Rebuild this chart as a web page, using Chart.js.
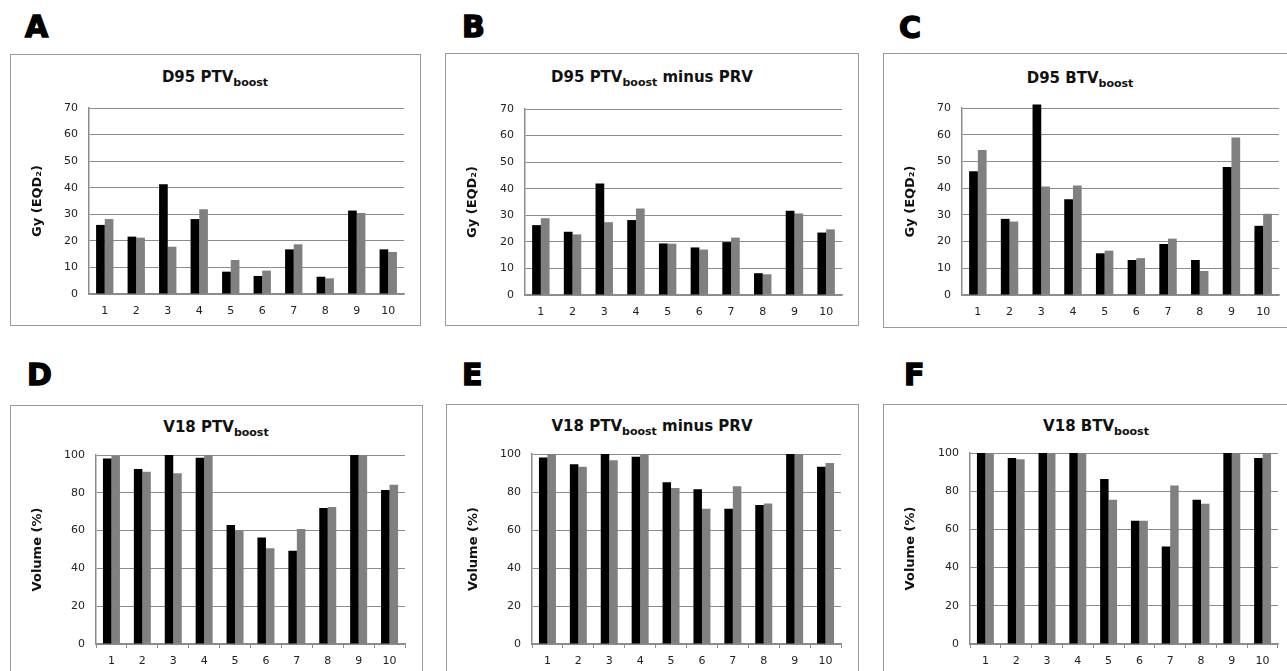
<!DOCTYPE html>
<html>
<head>
<meta charset="utf-8">
<script src="https://cdn.jsdelivr.net/npm/chart.js@4/dist/chart.umd.min.js"></script>
<style>
  body { margin: 0; background: #fff; width: 1287px; height: 671px; overflow: hidden; position: relative;
         font-family: "DejaVu Sans", Verdana, sans-serif; }
  .letter { position: absolute; font-weight: bold; font-size: 30px; line-height: 30px; -webkit-text-stroke: 1.4px #000; }
  .frame { position: absolute; border: 1px solid #9a9a9a; box-sizing: border-box; }
  .title { position: absolute; width: 400px; text-align: center; font-weight: bold; font-size: 15px; line-height: 15px; color: #111; white-space: nowrap; }
  .title sub { font-size: 11px; vertical-align: -4px; line-height: 0; }
  canvas { position: absolute; }
</style>
</head>
<body>
<script>
// --- data (black series / grey series per patient) ---
const patients = ['1', '2', '3', '4', '5', '6', '7', '8', '9', '10'];
const gyTicks = [0, 10, 20, 30, 40, 50, 60, 70];
const volTicks = [0, 20, 40, 60, 80, 100];

// D95 (Gy EQD2)
const d95PtvBlack = [26.0, 21.6, 41.3, 28.2, 8.4, 6.8, 16.8, 6.5, 31.4, 16.8];
const d95PtvGrey  = [28.2, 21.2, 17.8, 31.9, 12.8, 8.8, 18.7, 5.9, 30.5, 15.8];
const d95PrvBlack = [26.3, 23.8, 42.0, 28.2, 19.4, 17.9, 19.9, 8.2, 31.7, 23.5];
const d95PrvGrey  = [28.9, 22.8, 27.4, 32.6, 19.3, 17.1, 21.6, 7.8, 30.7, 24.7];
const d95BtvBlack = [46.3, 28.5, 71.3, 35.8, 15.6, 13.1, 19.1, 13.1, 47.9, 25.9];
const d95BtvGrey  = [54.3, 27.5, 40.6, 41.0, 16.6, 13.8, 21.1, 9.0, 59.0, 30.4];

// V18 (volume %)
const v18PtvBlack = [98.2, 92.6, 100, 98.6, 63.0, 56.3, 49.3, 72.0, 100, 81.5];
const v18PtvGrey  = [99.5, 91.2, 90.3, 100, 60.2, 50.7, 60.9, 72.5, 100, 84.2];
const v18PrvBlack = [98.1, 94.6, 100, 98.6, 85.1, 81.5, 71.2, 73.1, 100, 93.3];
const v18PrvGrey  = [100, 93.3, 96.7, 100, 82.1, 71.2, 83.0, 74.0, 100, 95.3];
const v18BtvBlack = [100, 97.4, 100, 100, 86.4, 64.5, 51.0, 75.5, 100, 97.4];
const v18BtvGrey  = [100, 96.7, 100, 100, 75.5, 64.5, 83.0, 73.4, 100, 100];

// --- panel layout (page pixels) ---
const panels = [
  { letter: 'A', lx: 25, ly: 12, title: 'D95 PTV<sub>boost</sub>', tx: 215, ty: 70,
    frame: [10, 54, 411, 272], plot: [89, 108, 404, 294], yTitle: 'Gy (EQD₂)', ticks: gyTicks,
    black: d95PtvBlack, grey: d95PtvGrey, xTicks: false },
  { letter: 'B', lx: 462, ly: 12, title: 'D95 PTV<sub>boost</sub> minus PRV', tx: 652, ty: 70,
    frame: [445, 53, 414, 273], plot: [525, 109, 842, 295], yTitle: 'Gy (EQD₂)', ticks: gyTicks,
    black: d95PrvBlack, grey: d95PrvGrey, xTicks: false },
  { letter: 'C', lx: 899, ly: 13, title: 'D95 BTV<sub>boost</sub>', tx: 1080, ty: 71,
    frame: [883, 53, 420, 275], plot: [962, 108, 1279, 295], yTitle: 'Gy (EQD₂)', ticks: gyTicks,
    black: d95BtvBlack, grey: d95BtvGrey, xTicks: false },
  { letter: 'D', lx: 27, ly: 360, title: 'V18 PTV<sub>boost</sub>', tx: 216, ty: 420,
    frame: [10, 405, 413, 290], plot: [96, 455, 405, 644], yTitle: 'Volume (%)', ticks: volTicks,
    black: v18PtvBlack, grey: v18PtvGrey, xTicks: true },
  { letter: 'E', lx: 462, ly: 360, title: 'V18 PTV<sub>boost</sub> minus PRV', tx: 652, ty: 419,
    frame: [446, 404, 413, 290], plot: [532, 454, 841, 644], yTitle: 'Volume (%)', ticks: volTicks,
    black: v18PrvBlack, grey: v18PrvGrey, xTicks: true },
  { letter: 'F', lx: 904, ly: 360, title: 'V18 BTV<sub>boost</sub>', tx: 1096, ty: 419,
    frame: [883, 404, 420, 290], plot: [970, 453, 1278, 644], yTitle: 'Volume (%)', ticks: volTicks,
    black: v18BtvBlack, grey: v18BtvGrey, xTicks: true }
];

const PAGE_H = 671;
const axisGrey = '#8c8c8c';

panels.forEach(p => {
  const [fx, fy, fw, fh] = p.frame;
  const [pl, pt, pr, pb] = p.plot;

  // panel letter
  const letter = document.createElement('div');
  letter.className = 'letter';
  letter.style.left = p.lx + 'px';
  letter.style.top = p.ly + 'px';
  letter.textContent = p.letter;
  document.body.appendChild(letter);

  // grey frame round the chart
  const frame = document.createElement('div');
  frame.className = 'frame';
  Object.assign(frame.style, { left: fx + 'px', top: fy + 'px', width: fw + 'px', height: fh + 'px' });
  document.body.appendChild(frame);

  // chart title (with subscript)
  const title = document.createElement('div');
  title.className = 'title';
  title.style.left = (p.tx - 200) + 'px';
  title.style.top = p.ty + 'px';
  title.innerHTML = p.title;
  document.body.appendChild(title);

  // canvas covers the visible part of the frame
  const ch = Math.min(fh, PAGE_H - fy);
  const canvas = document.createElement('canvas');
  canvas.width = fw;
  canvas.height = ch;
  Object.assign(canvas.style, { left: fx + 'px', top: fy + 'px', width: fw + 'px', height: ch + 'px' });
  document.body.appendChild(canvas);

  const yWidth = pl - fx;
  const xHeight = ch - (pb - fy);

  new Chart(canvas.getContext('2d'), {
    type: 'bar',
    data: {
      labels: patients,
      datasets: [
        { data: p.black, backgroundColor: '#000000', borderWidth: 0, clip: false },
        { data: p.grey, backgroundColor: '#808080', borderWidth: 0, clip: false }
      ]
    },
    options: {
      responsive: false,
      animation: false,
      devicePixelRatio: 1,
      categoryPercentage: 0.55,
      barPercentage: 1.0,
      layout: { padding: { left: 0, top: pt - fy, right: fx + fw - pr, bottom: 0 } },
      plugins: { legend: { display: false }, tooltip: { enabled: false }, title: { display: false } },
      scales: {
        x: {
          grid: { drawOnChartArea: false, drawTicks: p.xTicks, tickLength: 4, color: axisGrey },
          border: { color: axisGrey, width: 1.5 },
          ticks: { color: '#222', padding: p.xTicks ? 7 : 11, font: { family: 'DejaVu Sans', size: 11 }, maxRotation: 0 },
          afterFit: s => { s.height = xHeight; }
        },
        y: {
          min: p.ticks[0],
          max: p.ticks[p.ticks.length - 1],
          afterBuildTicks: s => { s.ticks = p.ticks.map(v => ({ value: v })); },
          grid: { color: axisGrey, lineWidth: 1, drawTicks: false },
          border: { color: axisGrey, width: 1.5 },
          ticks: { color: '#222', padding: 11, font: { family: 'DejaVu Sans', size: 11 } },
          title: {
            display: true,
            text: p.yTitle,
            color: '#111',
            font: { family: 'DejaVu Sans', size: 13, weight: 'bold' },
            padding: { top: 20, bottom: 0 }
          },
          afterFit: s => { s.width = yWidth; }
        }
      }
    }
  });
});
</script>
</body>
</html>
